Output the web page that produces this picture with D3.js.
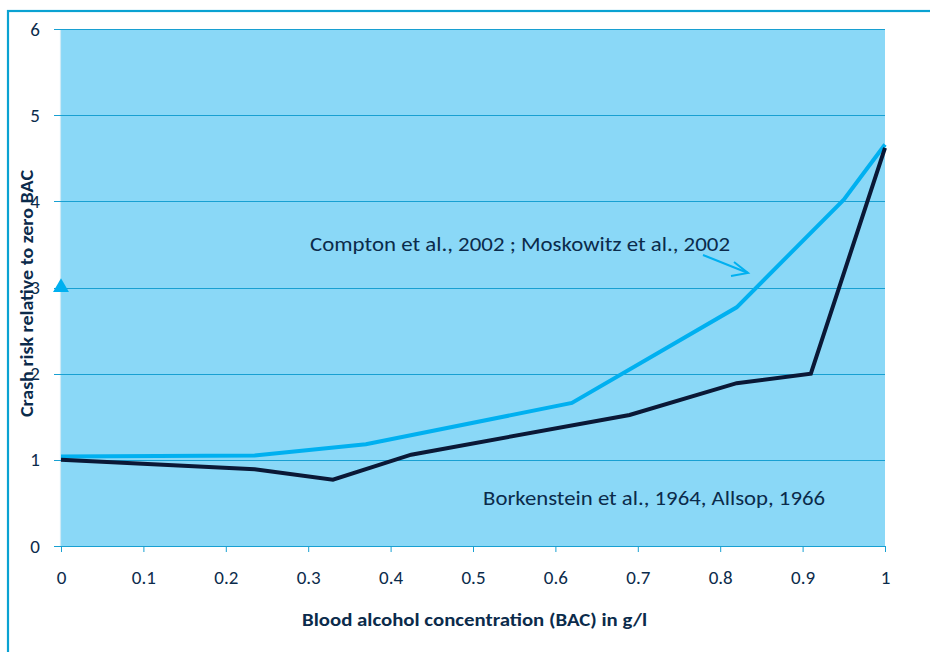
<!DOCTYPE html>
<html><head><meta charset="utf-8">
<script src="https://cdn.jsdelivr.net/npm/d3@7"></script>
<style>body{margin:0;background:#fff}svg{display:block}text{font-family:Carlito,Lato,"Open Sans",sans-serif;fill:#0b2b4b}</style>
</head><body><svg id="c" width="930" height="652"></svg>
<script>
const xTicks = [0,0.1,0.2,0.3,0.4,0.5,0.6,0.7,0.8,0.9,1];
const yTicks = [0,1,2,3,4,5,6];
const comptonX = [0,0.235,0.37,0.62,0.82,0.95,1.0];
const comptonY = [1.04,1.05,1.18,1.66,2.77,4.02,4.66];
const borkX = [0,0.235,0.33,0.425,0.69,0.82,0.91,1.0];
const borkY = [1.0,0.89,0.77,1.06,1.52,1.89,2.0,4.62];
const markerX = [0], markerY = [3];
const labels = {compton:"Compton et al., 2002 ; Moskowitz et al., 2002", bork:"Borkenstein et al., 1964, Allsop, 1966",
  xTitle:"Blood alcohol concentration (BAC) in g/l", yTitle:"Crash risk relative to zero BAC"};

const svg = d3.select("#c");
const L=61,R=885,T=29,B=546;
const x = d3.scaleLinear().domain([0,1]).range([L,R]);
const y = d3.scaleLinear().domain([0,6]).range([B,T]);

// outer frame
svg.append("rect").attr("x",8).attr("y",11).attr("width",940).attr("height",660)
  .attr("fill","none").attr("stroke","#0aa2d2").attr("stroke-width",2.2);

svg.append("rect").attr("x",L).attr("y",T).attr("width",R-L).attr("height",B-T).attr("fill","#8ad8f7");
svg.append("line").attr("x1",L-0.5).attr("x2",L-0.5).attr("y1",T).attr("y2",B).attr("stroke","#cdeaf6").attr("stroke-width",1.2);

// grid
svg.append("g").selectAll("line").data(yTicks).join("line")
  .attr("x1",L-7).attr("x2",R).attr("y1",d=>Math.round(y(d))+0.5).attr("y2",d=>Math.round(y(d))+0.5)
  .attr("stroke","#18a0d2").attr("stroke-width",1);
svg.append("g").selectAll("text").data(yTicks).join("text")
  .attr("x",40).attr("y",d=>y(d)+6.5).attr("text-anchor","end").attr("font-size",19).text(d=>d);

// x axis
const xa = svg.append("g").attr("transform",`translate(0,${B})`)
  .call(d3.axisBottom(x).tickValues(xTicks).tickSize(6).tickPadding(19).tickFormat(d=>String(d)));
xa.select(".domain").attr("stroke","#18a0d2");
xa.selectAll(".tick line").attr("stroke","#18a0d2");
xa.selectAll(".tick text").attr("font-size",19).attr("fill","#0b2b4b").attr("font-family","Carlito,Lato,'Open Sans',sans-serif");

// titles
svg.append("text").attr("x",302).attr("y",626).attr("font-size",17)
  .attr("font-weight","bold").attr("textLength",345).attr("lengthAdjust","spacingAndGlyphs").text(labels.xTitle);
svg.append("text").attr("transform","translate(33,417) rotate(-90)")
  .attr("font-size",17).attr("font-weight","bold").attr("textLength",247).attr("lengthAdjust","spacingAndGlyphs").text(labels.yTitle);

const line = d3.line().x(d=>x(d[0])).y(d=>y(d[1]));
svg.append("path").datum(d3.zip(comptonX,comptonY)).attr("d",line).attr("fill","none")
  .attr("stroke","#00b0f0").attr("stroke-width",4);
svg.append("path").datum(d3.zip(borkX,borkY)).attr("d",line).attr("fill","none")
  .attr("stroke","#0a1836").attr("stroke-width",4);

// triangle marker
svg.append("g").selectAll("path").data(d3.zip(markerX,markerY)).join("path")
  .attr("d",d3.symbol(d3.symbolTriangle,110)).attr("transform",d=>`translate(${x(d[0])},${y(d[1])})`)
  .attr("fill","#00b0f0");

// annotations
svg.append("text").attr("x",310).attr("y",251).attr("font-size",20)
  .attr("textLength",420).attr("lengthAdjust","spacingAndGlyphs").text(labels.compton);
svg.append("text").attr("x",483).attr("y",505).attr("font-size",20)
  .attr("textLength",342).attr("lengthAdjust","spacingAndGlyphs").text(labels.bork);

// arrow
svg.append("line").attr("x1",703).attr("y1",255).attr("x2",748).attr("y2",273).attr("stroke","#00b0f0").attr("stroke-width",2);
svg.append("path").attr("d","M734,262 L748,273 L731,276").attr("fill","none").attr("stroke","#00b0f0").attr("stroke-width",2);
</script></body></html>
